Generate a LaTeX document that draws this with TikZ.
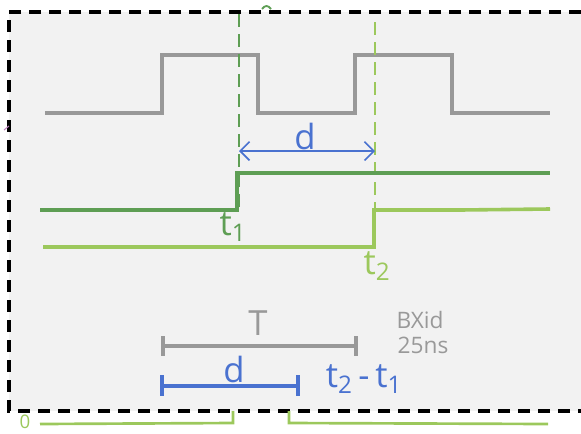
\documentclass[tikz,border=0pt]{standalone}
\usepackage{fontspec}
\setmainfont{Open Sans}
\usetikzlibrary{arrows.meta}
\definecolor{bgc}{HTML}{F2F2F2}
\definecolor{clk}{HTML}{999999}
\definecolor{dg}{HTML}{5E9E54}
\definecolor{lg}{HTML}{9CC85C}
\definecolor{bl}{HTML}{4A72D0}
\tikzset{
  frame/.style={draw=black, line width=3pt, dash pattern=on 9pt off 6pt},
  clock/.style={draw=clk, line width=2.3pt},
  sigA/.style={draw=dg, line width=2.3pt},
  sigB/.style={draw=lg, line width=2.7pt},
  marker/.style={line width=1.2pt, dash pattern=on 10pt off 5pt},
  lbl/.style={inner sep=0pt, font=\fontsize{26}{28}\selectfont},
  smalllbl/.style={inner sep=0pt, font=\fontsize{17}{17}\selectfont, text=clk},
}
\newcommand{\sbs}[1]{\textsubscript{#1}}
\begin{document}
\begin{tikzpicture}[x=0.75pt,y=-0.75pt]
\useasboundingbox (0,0) rectangle (581,433);
% frame
\fill[bgc] (9,12) rectangle (581,411);
\draw[frame] (581,12) -- (9,12) -- (9,411) -- (581,411);
% stray marks
\draw[violet!50, line width=0.8pt] (4,130) -- (9,126);
\draw[dg, line width=1.4pt] (262,9) .. controls (265,5) and (268,5) .. (271,9);
% clock
\draw[clock] (45,113) -- (162,113) -- (162,55) -- (258,55) -- (258,113)
  -- (355,113) -- (355,55) -- (452,55) -- (452,113) -- (550,113);
% markers
\coordinate (m1top) at (239,14);
\coordinate (m1bot) at (239,208);
\coordinate (m2top) at (375,22);
\coordinate (m2bot) at (375,246);
\draw[marker, dg] (m1top) -- (m1bot);
\draw[marker, lg] (m2top) -- (m2bot);
% delay arrow
\coordinate (da) at (239,151);
\coordinate (db) at (375,151);
\draw[bl, line width=1.2pt, {Straight Barb[length=7pt,width=14pt]}-{Straight Barb[length=7pt,width=14pt]}] (da) -- (db);
\node[lbl, text=bl] (dlab) at (305,136) {d};
% signal A (dark green)
\draw[sigA] (40,210) -- (237,210) -- (237,173) -- (550,173);
\node[lbl, text=dg] (t1) at (233,227) {t\sbs{1}};
% signal B (light green)
\draw[sigB] (43,247) -- (374,247) -- (374,210) -- (460,210) -- (550,209);
\node[lbl, text=lg] (t2) at (377,266) {t\sbs{2}};
% BX id
\node[smalllbl] (bx) at (420,320) {BXid};
\node[smalllbl] (ns) at (423,345) {25ns};
% T bar
\coordinate (ta) at (163,346);
\coordinate (tb) at (356,346);
\draw[clk, line width=2.3pt] (ta) -- (tb);
\draw[clk, line width=2.3pt] (163,336) -- (163,356);
\draw[clk, line width=2.3pt] (356,336) -- (356,356);
\node[lbl, text=clk] (Tlab) at (258,323) {T};
% d bar
\coordinate (ba) at (162,386);
\coordinate (bb) at (298,386);
\draw[bl, line width=2.3pt] (ba) -- (bb);
\draw[bl, line width=2.3pt] (162,375) -- (162,396);
\draw[bl, line width=2.3pt] (298,375) -- (298,396);
\node[lbl, text=bl] (dlab2) at (234,369) {d};
\node[lbl, text=bl] (diff) at (364,379) {t\sbs{2}\,-\,t\sbs{1}};
% bottom bracket
\node[inner sep=0pt, text=lg, font=\fontsize{14}{14}\selectfont] (zero) at (25,422) {0};
\draw[lg, line width=2pt] (40,424) -- (233,423) -- (233,411);
\draw[lg, line width=2pt] (289,411) -- (289,423) -- (548,424);
\end{tikzpicture}
\end{document}
